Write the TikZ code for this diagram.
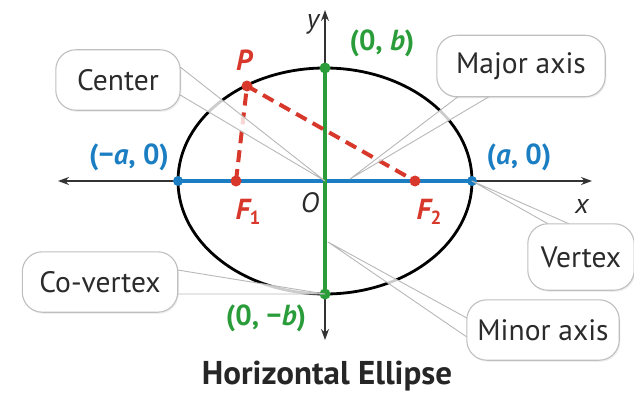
\documentclass[tikz,border=0pt]{standalone}
\usepackage{fontspec}
\setmainfont{PT Sans}
\usetikzlibrary{shadows,arrows.meta,calc}
\pgfdeclarelayer{boxes}
\pgfdeclarelayer{toplayer}
\pgfsetlayers{main,boxes,toplayer}
\definecolor{eblue}{HTML}{1B7EC2}
\definecolor{egreen}{HTML}{2A9D3A}
\definecolor{ered}{HTML}{D8382B}
\definecolor{etext}{HTML}{2B2B2B}
\tikzset{
  callout/.style={text=etext, font=\fontsize{29.5}{31}\selectfont, inner sep=0pt},
  boxshape/.style={draw=black!25, line width=1.1pt, fill=white, rounded corners=20pt,
    drop shadow={opacity=0.13, shadow xshift=1.2pt, shadow yshift=-1.6pt}},
  tail/.style={draw=black!28, line width=0.9pt, fill=white, fill opacity=0.8, line join=round},
  axisline/.style={draw=black!80, line width=1.4pt, -{Stealth[length=11pt,width=8pt]}},
  dotb/.style={circle, fill=eblue, inner sep=0pt, minimum size=10pt},
  dotg/.style={circle, fill=egreen, inner sep=0pt, minimum size=11pt},
  dotr/.style={circle, fill=ered, inner sep=0pt, minimum size=11pt},
  lbl/.style={font=\fontsize{29}{31}\selectfont\bfseries, inner sep=0pt},
  mathlbl/.style={font=\fontsize{28}{30}\selectfont\itshape, inner sep=0pt},
}
\begin{document}
\begin{tikzpicture}[x=1pt,y=-1pt]
\useasboundingbox (0,0) rectangle (634,396);
% key points
\coordinate (O) at (325,181);
\coordinate (xL) at (58,181);
\coordinate (xR) at (592,181);
\coordinate (yT) at (325,10);
\coordinate (yB) at (325,340);
\coordinate (V1) at (178,181);
\coordinate (V2) at (472,181);
\coordinate (B1) at (325,68);
\coordinate (B2) at (325,294);
\coordinate (F1) at (236,181);
\coordinate (F2) at (415,181);
\coordinate (P) at (247,86);
\coordinate (majtip) at (350,179);
\coordinate (mintip) at (328,242);
% axes
\draw[axisline] (O) -- (xL);
\draw[axisline] (O) -- (xR);
\draw[axisline] (O) -- (yT);
\draw[axisline] (O) -- (yB);
% major and minor axes
\draw[eblue, line width=4pt] (V1) -- (V2);
\draw[egreen, line width=4pt] (B1) -- (B2);
% ellipse
\draw[black, line width=2.8pt] (O) ellipse [x radius=147, y radius=113];
% focal radii
\draw[ered, line width=4pt, dash pattern=on 12pt off 7pt] (F1) -- (P) -- (F2);
% dots
\node[dotb] (dV1) at (V1) {};
\node[dotb] (dV2) at (V2) {};
\node[dotg] (dB1) at (B1) {};
\node[dotg] (dB2) at (B2) {};
\node[dotr] (dF1) at (F1) {};
\node[dotr] (dF2) at (F2) {};
\node[dotr] (dP) at (P) {};
% callout texts (frames drawn below on the boxes layer)
\begin{pgfonlayer}{toplayer}
\node[callout, minimum width=124pt, minimum height=60pt] (cen) at (118,80) {Center};
\node[callout, minimum width=168pt, minimum height=61pt] (maj) at (521,66) {Major axis};
\node[callout, minimum width=106pt, minimum height=66pt] (vtx) at (581,257) {Vertex};
\node[callout, minimum width=152pt, minimum height=60pt] (mnr) at (543,330) {Minor axis};
\node[callout, minimum width=155pt, minimum height=60pt] (cov) at (100,282) {Co-vertex};
\end{pgfonlayer}
\begin{pgfonlayer}{boxes}
% tails
\draw[tail] ([yshift=13pt]cen.east) -- (O) -- ([yshift=-15pt]cen.east);
\draw[tail] ([xshift=-63pt]maj.south) -- (majtip) -- ([xshift=-32pt]maj.south);
\draw[tail] ([xshift=-33pt]vtx.north) -- (V2) -- ([xshift=-12pt]vtx.north);
\draw[tail] ([yshift=-7pt]mnr.west) -- (mintip) -- ([yshift=12pt]mnr.west);
\draw[tail] ([yshift=12pt]cov.east) -- (B2) -- ([yshift=-12pt]cov.east);
% frames
\draw[boxshape] (cen.north west) rectangle (cen.south east);
\draw[boxshape] (maj.north west) rectangle (maj.south east);
\draw[boxshape] (vtx.north west) rectangle (vtx.south east);
\draw[boxshape] (mnr.north west) rectangle (mnr.south east);
\draw[boxshape] (cov.north west) rectangle (cov.south east);
\end{pgfonlayer}
% labels
\node[mathlbl, text=etext] (ly) at (313,24) {y};
\node[mathlbl, text=etext] (lx) at (582,206) {x};
\node[mathlbl, text=etext] (lO) at (310,203) {O};
\node[lbl, text=ered] (lP) at (244,60) {\itshape P};
\node[lbl, text=ered] (lF1) at (248,212) {\itshape F\raisebox{-0.35ex}{\fontsize{19}{20}\selectfont\upshape 1}};
\node[lbl, text=ered] (lF2) at (429,212) {\itshape F\raisebox{-0.35ex}{\fontsize{19}{20}\selectfont\upshape 2}};
\node[lbl, text=egreen] (lB1) at (382,43) {(0, \textit{b})};
\node[lbl, text=egreen] (lB2) at (266,318) {(0, −\textit{b})};
\node[lbl, text=eblue] (lV1) at (129,157) {(−\textit{a}, 0)};
\node[lbl, text=eblue] (lV2) at (519,157) {(\textit{a}, 0)};
\node[font=\fontsize{33}{35}\selectfont\bfseries, text=black!85, inner sep=0pt] (title) at (327,376) {Horizontal Ellipse};
\end{tikzpicture}
\end{document}
